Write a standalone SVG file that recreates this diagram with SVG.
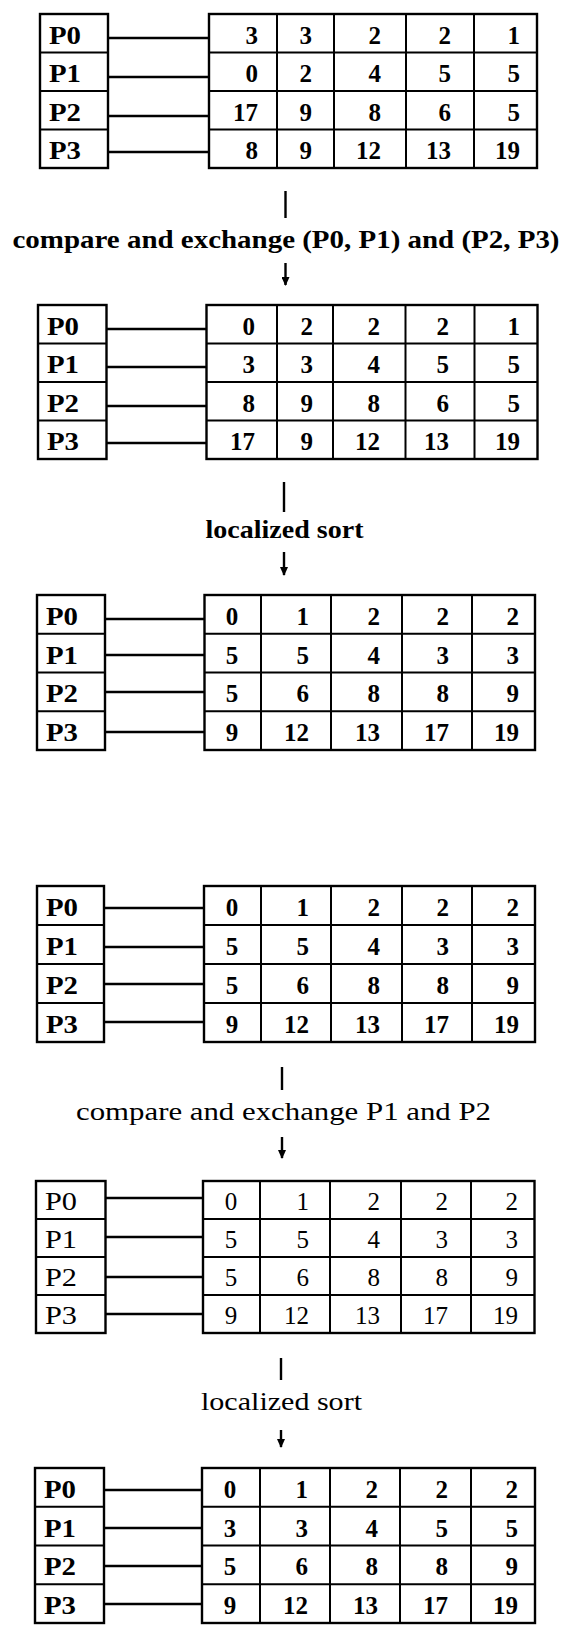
<svg xmlns="http://www.w3.org/2000/svg" width="570" height="1626" viewBox="0 0 570 1626">
<style>
.box{fill:#fff;stroke:#000;stroke-width:2.4}
.grid{stroke:#000;stroke-width:2}
.conn{stroke:#000;stroke-width:2.6;fill:none}
.tick{stroke:#000;stroke-width:2.4;fill:none}
text{font-family:"Liberation Serif","Times New Roman",serif;fill:#000}
.b{font-weight:bold}
.n{font-weight:normal}
.lab{font-size:25px}
.num{font-size:25px;text-anchor:end}
.mid{text-anchor:middle}
.cap{font-size:26px;text-anchor:middle}
</style>
<defs>
<marker id="ah" markerUnits="userSpaceOnUse" markerWidth="9" markerHeight="8" viewBox="0 0 9 8" refX="8" refY="4" orient="auto"><path d="M0,0 L9,4 L0,8 z" fill="#000"/></marker>
</defs>
<rect width="570" height="1626" fill="#fff"/>

<!-- Block 1 -->
<g id="b1-procs" class="b">
<rect class="box" x="40" y="14" width="68" height="154"/>
<path class="grid" d="M40,52.5H108M40,91H108M40,129.5H108"/>
<text class="lab" x="49" y="43.5" textLength="32" lengthAdjust="spacingAndGlyphs">P0</text>
<text class="lab" x="49" y="82" textLength="32" lengthAdjust="spacingAndGlyphs">P1</text>
<text class="lab" x="49" y="120.5" textLength="32" lengthAdjust="spacingAndGlyphs">P2</text>
<text class="lab" x="49" y="159" textLength="32" lengthAdjust="spacingAndGlyphs">P3</text>
</g>
<g id="b1-table" class="b">
<rect class="box" x="209" y="14" width="328" height="154"/>
<path class="grid" d="M209,52.5H537M209,91H537M209,129.5H537M277,14V168M334,14V168M406,14V168M474,14V168"/>
<text class="num" x="258" y="43.5">3</text><text class="num" x="312" y="43.5">3</text><text class="num" x="381" y="43.5">2</text><text class="num" x="451" y="43.5">2</text><text class="num" x="520" y="43.5">1</text>
<text class="num" x="258" y="82">0</text><text class="num" x="312" y="82">2</text><text class="num" x="381" y="82">4</text><text class="num" x="451" y="82">5</text><text class="num" x="520" y="82">5</text>
<text class="num" x="258" y="120.5">17</text><text class="num" x="312" y="120.5">9</text><text class="num" x="381" y="120.5">8</text><text class="num" x="451" y="120.5">6</text><text class="num" x="520" y="120.5">5</text>
<text class="num" x="258" y="159">8</text><text class="num" x="312" y="159">9</text><text class="num" x="381" y="159">12</text><text class="num" x="451" y="159">13</text><text class="num" x="520" y="159">19</text>
</g>

<!-- Block 2 -->
<g id="b2-procs" class="b">
<rect class="box" x="38" y="305" width="68.5" height="154"/>
<path class="grid" d="M38,343.5H106.5M38,382H106.5M38,420.5H106.5"/>
<text class="lab" x="47" y="334.5" textLength="32" lengthAdjust="spacingAndGlyphs">P0</text>
<text class="lab" x="47" y="373" textLength="32" lengthAdjust="spacingAndGlyphs">P1</text>
<text class="lab" x="47" y="411.5" textLength="32" lengthAdjust="spacingAndGlyphs">P2</text>
<text class="lab" x="47" y="450" textLength="32" lengthAdjust="spacingAndGlyphs">P3</text>
</g>
<g id="b2-table" class="b">
<rect class="box" x="206.5" y="305" width="331" height="154"/>
<path class="grid" d="M206.5,343.5H537.5M206.5,382H537.5M206.5,420.5H537.5M277,305V459M333,305V459M405.5,305V459M474.5,305V459"/>
<text class="num" x="255" y="334.5">0</text><text class="num" x="313" y="334.5">2</text><text class="num" x="380" y="334.5">2</text><text class="num" x="449" y="334.5">2</text><text class="num" x="520" y="334.5">1</text>
<text class="num" x="255" y="373">3</text><text class="num" x="313" y="373">3</text><text class="num" x="380" y="373">4</text><text class="num" x="449" y="373">5</text><text class="num" x="520" y="373">5</text>
<text class="num" x="255" y="411.5">8</text><text class="num" x="313" y="411.5">9</text><text class="num" x="380" y="411.5">8</text><text class="num" x="449" y="411.5">6</text><text class="num" x="520" y="411.5">5</text>
<text class="num" x="255" y="450">17</text><text class="num" x="313" y="450">9</text><text class="num" x="380" y="450">12</text><text class="num" x="449" y="450">13</text><text class="num" x="520" y="450">19</text>
</g>

<!-- Block 3 -->
<g id="b3-procs" class="b">
<rect class="box" x="37" y="595" width="68" height="155"/>
<path class="grid" d="M37,633.75H105M37,672.5H105M37,711.25H105"/>
<text class="lab" x="46" y="624.75" textLength="32" lengthAdjust="spacingAndGlyphs">P0</text>
<text class="lab" x="46" y="663.5" textLength="32" lengthAdjust="spacingAndGlyphs">P1</text>
<text class="lab" x="46" y="702.25" textLength="32" lengthAdjust="spacingAndGlyphs">P2</text>
<text class="lab" x="46" y="741" textLength="32" lengthAdjust="spacingAndGlyphs">P3</text>
</g>
<g id="b3-table" class="b">
<rect class="box" x="204.5" y="595" width="330.5" height="155"/>
<path class="grid" d="M204.5,633.75H535M204.5,672.5H535M204.5,711.25H535M261,595V750M331,595V750M402,595V750M472,595V750"/>
<text class="num mid" x="232" y="624.75">0</text><text class="num" x="309" y="624.75">1</text><text class="num" x="380" y="624.75">2</text><text class="num" x="449" y="624.75">2</text><text class="num" x="519" y="624.75">2</text>
<text class="num mid" x="232" y="663.5">5</text><text class="num" x="309" y="663.5">5</text><text class="num" x="380" y="663.5">4</text><text class="num" x="449" y="663.5">3</text><text class="num" x="519" y="663.5">3</text>
<text class="num mid" x="232" y="702.25">5</text><text class="num" x="309" y="702.25">6</text><text class="num" x="380" y="702.25">8</text><text class="num" x="449" y="702.25">8</text><text class="num" x="519" y="702.25">9</text>
<text class="num mid" x="232" y="741">9</text><text class="num" x="309" y="741">12</text><text class="num" x="380" y="741">13</text><text class="num" x="449" y="741">17</text><text class="num" x="519" y="741">19</text>
</g>

<!-- Block 4 -->
<g id="b4-procs" class="b">
<rect class="box" x="37" y="886" width="67" height="156"/>
<path class="grid" d="M37,925H104M37,964H104M37,1003H104"/>
<text class="lab" x="46" y="916" textLength="32" lengthAdjust="spacingAndGlyphs">P0</text>
<text class="lab" x="46" y="955" textLength="32" lengthAdjust="spacingAndGlyphs">P1</text>
<text class="lab" x="46" y="994" textLength="32" lengthAdjust="spacingAndGlyphs">P2</text>
<text class="lab" x="46" y="1033" textLength="32" lengthAdjust="spacingAndGlyphs">P3</text>
</g>
<g id="b4-table" class="b">
<rect class="box" x="204" y="886" width="331" height="156"/>
<path class="grid" d="M204,925H535M204,964H535M204,1003H535M261,886V1042M331,886V1042M402,886V1042M472,886V1042"/>
<text class="num mid" x="232" y="916">0</text><text class="num" x="309" y="916">1</text><text class="num" x="380" y="916">2</text><text class="num" x="449" y="916">2</text><text class="num" x="519" y="916">2</text>
<text class="num mid" x="232" y="955">5</text><text class="num" x="309" y="955">5</text><text class="num" x="380" y="955">4</text><text class="num" x="449" y="955">3</text><text class="num" x="519" y="955">3</text>
<text class="num mid" x="232" y="994">5</text><text class="num" x="309" y="994">6</text><text class="num" x="380" y="994">8</text><text class="num" x="449" y="994">8</text><text class="num" x="519" y="994">9</text>
<text class="num mid" x="232" y="1033">9</text><text class="num" x="309" y="1033">12</text><text class="num" x="380" y="1033">13</text><text class="num" x="449" y="1033">17</text><text class="num" x="519" y="1033">19</text>
</g>

<!-- Block 5 -->
<g id="b5-procs" class="n">
<rect class="box" x="36" y="1181" width="69.5" height="152"/>
<path class="grid" d="M36,1219H105.5M36,1257H105.5M36,1295H105.5"/>
<text class="lab" x="45" y="1210" textLength="32" lengthAdjust="spacingAndGlyphs">P0</text>
<text class="lab" x="45" y="1248" textLength="32" lengthAdjust="spacingAndGlyphs">P1</text>
<text class="lab" x="45" y="1286" textLength="32" lengthAdjust="spacingAndGlyphs">P2</text>
<text class="lab" x="45" y="1324" textLength="32" lengthAdjust="spacingAndGlyphs">P3</text>
</g>
<g id="b5-table" class="n">
<rect class="box" x="203" y="1181" width="331.5" height="152"/>
<path class="grid" d="M203,1219H534.5M203,1257H534.5M203,1295H534.5M260,1181V1333M330,1181V1333M401,1181V1333M471,1181V1333"/>
<text class="num mid" x="231" y="1210">0</text><text class="num" x="309" y="1210">1</text><text class="num" x="380" y="1210">2</text><text class="num" x="448" y="1210">2</text><text class="num" x="518" y="1210">2</text>
<text class="num mid" x="231" y="1248">5</text><text class="num" x="309" y="1248">5</text><text class="num" x="380" y="1248">4</text><text class="num" x="448" y="1248">3</text><text class="num" x="518" y="1248">3</text>
<text class="num mid" x="231" y="1286">5</text><text class="num" x="309" y="1286">6</text><text class="num" x="380" y="1286">8</text><text class="num" x="448" y="1286">8</text><text class="num" x="518" y="1286">9</text>
<text class="num mid" x="231" y="1324">9</text><text class="num" x="309" y="1324">12</text><text class="num" x="380" y="1324">13</text><text class="num" x="448" y="1324">17</text><text class="num" x="518" y="1324">19</text>
</g>

<!-- Block 6 -->
<g id="b6-procs" class="b">
<rect class="box" x="35" y="1468" width="69" height="155"/>
<path class="grid" d="M35,1506.75H104M35,1545.5H104M35,1584.25H104"/>
<text class="lab" x="44" y="1497.75" textLength="32" lengthAdjust="spacingAndGlyphs">P0</text>
<text class="lab" x="44" y="1536.5" textLength="32" lengthAdjust="spacingAndGlyphs">P1</text>
<text class="lab" x="44" y="1575.25" textLength="32" lengthAdjust="spacingAndGlyphs">P2</text>
<text class="lab" x="44" y="1614" textLength="32" lengthAdjust="spacingAndGlyphs">P3</text>
</g>
<g id="b6-table" class="b">
<rect class="box" x="202" y="1468" width="333" height="155"/>
<path class="grid" d="M202,1506.75H535M202,1545.5H535M202,1584.25H535M260,1468V1623M330,1468V1623M400,1468V1623M471,1468V1623"/>
<text class="num mid" x="230" y="1497.75">0</text><text class="num" x="308" y="1497.75">1</text><text class="num" x="378" y="1497.75">2</text><text class="num" x="448" y="1497.75">2</text><text class="num" x="518" y="1497.75">2</text>
<text class="num mid" x="230" y="1536.5">3</text><text class="num" x="308" y="1536.5">3</text><text class="num" x="378" y="1536.5">4</text><text class="num" x="448" y="1536.5">5</text><text class="num" x="518" y="1536.5">5</text>
<text class="num mid" x="230" y="1575.25">5</text><text class="num" x="308" y="1575.25">6</text><text class="num" x="378" y="1575.25">8</text><text class="num" x="448" y="1575.25">8</text><text class="num" x="518" y="1575.25">9</text>
<text class="num mid" x="230" y="1614">9</text><text class="num" x="308" y="1614">12</text><text class="num" x="378" y="1614">13</text><text class="num" x="448" y="1614">17</text><text class="num" x="518" y="1614">19</text>
</g>

<!-- Captions -->
<g id="captions">
<text class="cap b" x="286" y="248" textLength="547" lengthAdjust="spacingAndGlyphs">compare and exchange (P0, P1) and (P2, P3)</text>
<text class="cap b" x="284.5" y="538" textLength="158" lengthAdjust="spacingAndGlyphs">localized sort</text>
<text class="cap n" x="283.5" y="1120" textLength="415" lengthAdjust="spacingAndGlyphs">compare and exchange P1 and P2</text>
<text class="cap n" x="281.5" y="1410" textLength="161" lengthAdjust="spacingAndGlyphs">localized sort</text>
</g>

<!-- Connectors -->
<g id="connectors">
<path class="conn" d="M108,38H209M108,77H209M108,116H209M108,152H209"/>
<path class="conn" d="M106.5,329H206.5M106.5,367H206.5M106.5,406H206.5M106.5,443H206.5"/>
<path class="conn" d="M105,619H204.5M105,655H204.5M105,692H204.5M105,732H204.5"/>
<path class="conn" d="M104,908H204M104,947H204M104,984H204M104,1022H204"/>
<path class="conn" d="M105.5,1198H203M105.5,1237H203M105.5,1277H203M105.5,1314H203"/>
<path class="conn" d="M104,1490H202M104,1528H202M104,1566H202M104,1604H202"/>
<path class="tick" d="M285.5,191V218"/>
<path class="tick" d="M285.5,263V285" marker-end="url(#ah)"/>
<path class="tick" d="M284,482V512"/>
<path class="tick" d="M284,552V575" marker-end="url(#ah)"/>
<path class="tick" d="M282,1067V1090"/>
<path class="tick" d="M282,1137V1158" marker-end="url(#ah)"/>
<path class="tick" d="M281,1358V1380"/>
<path class="tick" d="M281,1430V1447" marker-end="url(#ah)"/>
</g>
</svg>
